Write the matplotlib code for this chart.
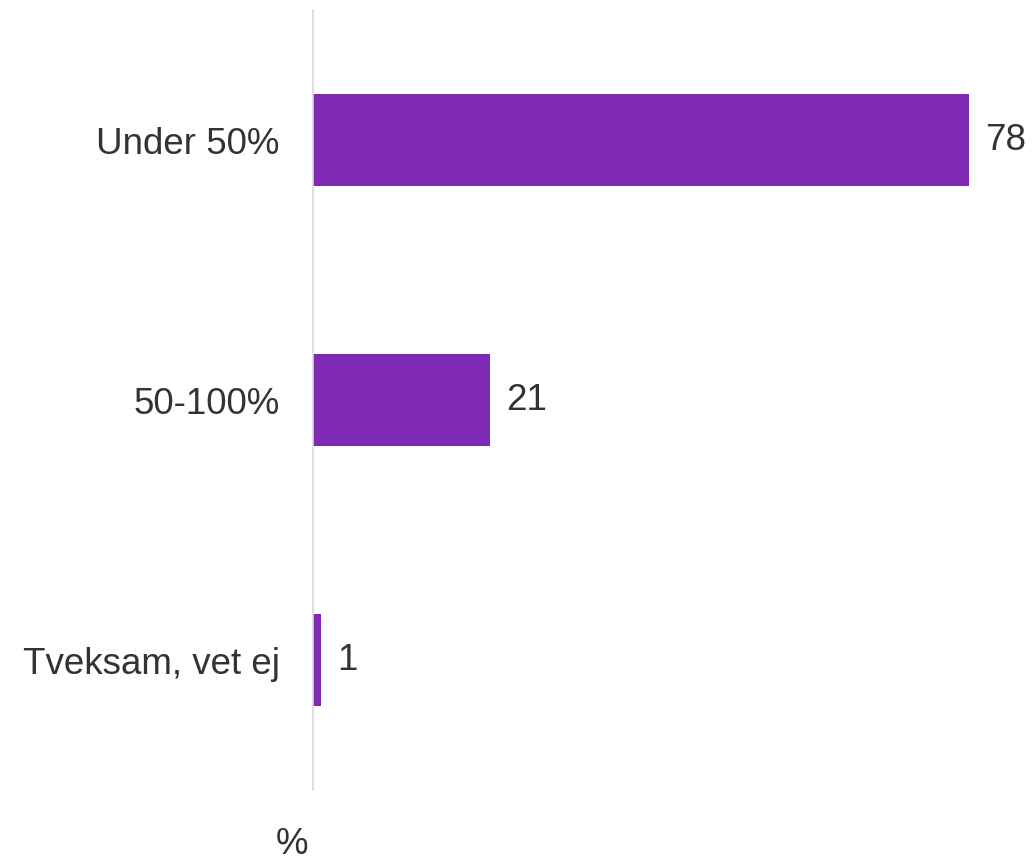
import matplotlib.pyplot as plt

categories = ['Under 50%', '50-100%', 'Tveksam, vet ej']
values = [78, 21, 1]

plt.rcParams['font.family'] = ['Liberation Sans', 'DejaVu Sans']

fig = plt.figure(figsize=(10.32, 8.65), dpi=100)
ax = fig.add_axes([313 / 1032, 75 / 865, 715 / 1032, 780 / 865])

pos = range(len(categories))
ax.barh(pos, values, height=0.353, color='#7f2ab6')
for p, v in zip(pos, values):
    ax.text(v + 1.9, p, str(v), va='center', ha='left', fontsize=26.5, color='#333333')

ax.set_xlim(0, 85)
ax.set_ylim(2.5, -0.5)
ax.set_yticks(list(pos))
ax.set_yticklabels(categories, fontsize=26.5, color='#333333')
ax.tick_params(axis='y', length=0, pad=24)
ax.set_xticks([])
for side in ['top', 'right', 'bottom']:
    ax.spines[side].set_visible(False)
ax.spines['left'].set_color('#d9d9d9')
ax.spines['left'].set_linewidth(1.2)

fig.text(292 / 1032, 1 - 845 / 865, '%', ha='center', va='center', fontsize=26.5, color='#333333')

fig.savefig('out.png', dpi=100)
